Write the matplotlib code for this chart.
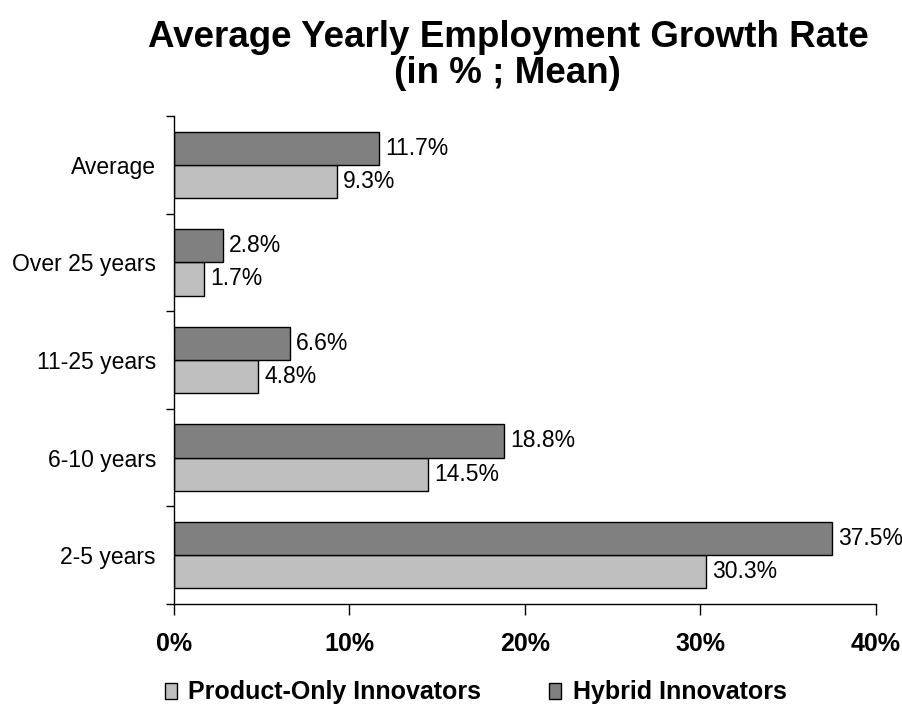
import matplotlib
matplotlib.use("Agg")
from matplotlib import pyplot as plt
from matplotlib.patches import Patch
from matplotlib.ticker import FixedLocator, FuncFormatter

plt.rcParams['font.family'] = ['Liberation Sans', 'DejaVu Sans']

# bottom to top
categories = ["2-5 years", "6-10 years", "11-25 years", "Over 25 years", "Average"]
product_only = [30.3, 14.5, 4.8, 1.7, 9.3]
hybrid = [37.5, 18.8, 6.6, 2.8, 11.7]
x_ticks = [0, 10, 20, 30, 40]

light = "#BFBFBF"
dark = "#808080"
bar_h = 0.34

fig = plt.figure(figsize=(9.03, 7.08), dpi=100)
ax = fig.add_axes([0.1927, 0.1469, 0.7773, 0.6893])

pos = range(len(categories))
ax.barh([p - bar_h / 2 for p in pos], product_only, height=bar_h,
        color=light, edgecolor="black", linewidth=1)
ax.barh([p + bar_h / 2 for p in pos], hybrid, height=bar_h,
        color=dark, edgecolor="black", linewidth=1)

for p, v in zip(pos, product_only):
    ax.text(v + 0.35, p - bar_h / 2, f"{v:.1f}%", va="center", ha="left", fontsize=16.5)
for p, v in zip(pos, hybrid):
    ax.text(v + 0.35, p + bar_h / 2, f"{v:.1f}%", va="center", ha="left", fontsize=16.5)

ax.set_xlim(0, 40)
ax.set_ylim(-0.5, len(categories) - 0.5)

ax.set_xticks(x_ticks)
ax.xaxis.set_major_formatter(FuncFormatter(lambda v, _: f"{v:.0f}%"))
ax.tick_params(axis="x", direction="out", length=8, width=1, pad=12, labelsize=18)
for lab in ax.get_xticklabels():
    lab.set_fontweight("bold")

# ticks between categories, labels at centres
ax.yaxis.set_major_locator(FixedLocator([p - 0.5 for p in range(len(categories) + 1)]))
ax.yaxis.set_major_formatter(FuncFormatter(lambda v, _: ""))
ax.yaxis.set_minor_locator(FixedLocator(list(pos)))
ax.set_yticklabels(categories, minor=True)
ax.tick_params(axis="y", which="major", direction="out", length=6, width=1)
ax.tick_params(axis="y", which="minor", length=0, pad=13, labelsize=16.5)

for s in ["top", "right"]:
    ax.spines[s].set_visible(False)
for s in ["left", "bottom"]:
    ax.spines[s].set_linewidth(1)

fig.text(0.5625, 0.9215, "Average Yearly Employment Growth Rate\n(in % ; Mean)",
         ha="center", va="center", fontsize=26.5, fontweight="bold", linespacing=1.04)

handles = [Patch(facecolor=light, edgecolor="black", label="Product-Only Innovators"),
           Patch(facecolor=dark, edgecolor="black", label="Hybrid Innovators")]
fig.legend(handles=handles, loc="center", bbox_to_anchor=(0.5266, 0.022), ncol=2,
           frameon=False, prop={"size": 18, "weight": "bold"},
           handlelength=0.5, handleheight=0.6, handletextpad=0.45, columnspacing=2.7)

fig.savefig("out.png", dpi=100)
